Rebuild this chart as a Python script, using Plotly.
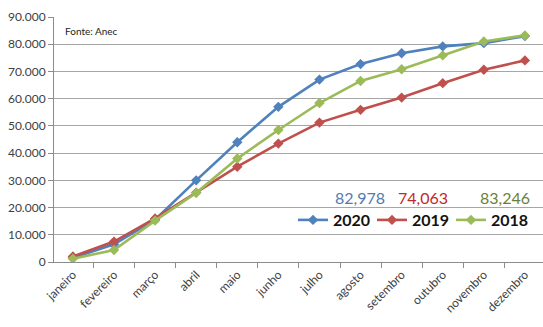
import plotly.graph_objects as go

meses = ["janeiro", "fevereiro", "março", "abril", "maio", "junho", "julho",
         "agosto", "setembro", "outubro", "novembro", "dezembro"]

vendas_2020 = [1500, 6500, 15500, 30000, 44000, 57000, 67000, 72700, 76700, 79200, 80400, 82978]
vendas_2019 = [2000, 7500, 16000, 25500, 35000, 43500, 51200, 55900, 60400, 65700, 70600, 74063]
vendas_2018 = [1200, 4400, 15200, 25400, 38000, 48500, 58400, 66500, 70800, 75900, 81000, 83246]

anos = ["2020", "2019", "2018"]
cores = ["#4F81BD", "#C0504D", "#9BBB59"]
cores_total = ["#4F7BB0", "#C0282D", "#6E7F35"]
series = [vendas_2020, vendas_2019, vendas_2018]

FONT = "Lato"

W, H = 543, 327
ML, MR, MT, MB = 54, 0, 17, 65
pw, ph = W - ML - MR, H - MT - MB


def px_x(x):
    return (x - ML) / pw


def px_y(y):
    return 1 - (y - MT) / ph


fig = go.Figure()
for ano, cor, vals in zip(anos, cores, series):
    fig.add_trace(go.Scatter(
        x=meses, y=vals, name=ano, mode="lines+markers",
        line=dict(color=cor, width=2.6),
        marker=dict(symbol="diamond", size=8, color=cor),
    ))

# Totais acumulados de dezembro acima da legenda
for vals, cor, cx in zip(series, cores_total, [360, 423, 505]):
    fig.add_annotation(
        x=px_x(cx), xref="paper", y=px_y(197), yref="paper",
        text=f"{vals[-1]:,}", showarrow=False,
        font=dict(family=FONT, size=16, color=cor),
        xanchor="center", yanchor="middle",
    )

fig.add_annotation(
    x=px_x(63), xref="paper", y=px_y(31), yref="paper",
    text="Fonte: Anec", showarrow=False,
    font=dict(family=FONT, size=10, color="#222222"),
    xanchor="left", yanchor="middle",
)

fig.update_layout(
    width=W, height=H,
    margin=dict(l=ML, r=MR, t=MT, b=MB),
    paper_bgcolor="white", plot_bgcolor="white",
    separators=",.",
    font=dict(family=FONT, size=12, color="#404040"),
    showlegend=True,
    legend=dict(
        orientation="h", x=px_x(293), y=px_y(220),
        xanchor="left", yanchor="middle",
        font=dict(family=FONT, size=16, color="#111111", weight="bold"),
        bgcolor="rgba(0,0,0,0)", itemwidth=30,
        entrywidth=34, entrywidthmode="pixels",
        tracegroupgap=0,
    ),
)

fig.update_xaxes(
    range=[-0.46, 11.44], tickangle=-45, tickson="boundaries",
    ticks="outside", ticklen=5, tickcolor="#8C8C8C",
    showline=True, linecolor="#8C8C8C", linewidth=1,
    showgrid=False, tickfont=dict(family=FONT, size=12, color="#404040"),
)
fig.update_yaxes(
    range=[0, 90000], dtick=10000, tickformat=",d",
    ticks="outside", ticklen=5, tickcolor="#8C8C8C",
    showline=True, linecolor="#8C8C8C", linewidth=1,
    showgrid=True, gridcolor="#A6A6A6", gridwidth=1,
    zeroline=False, tickfont=dict(family=FONT, size=12, color="#404040"),
)

fig.write_html("out.html")
